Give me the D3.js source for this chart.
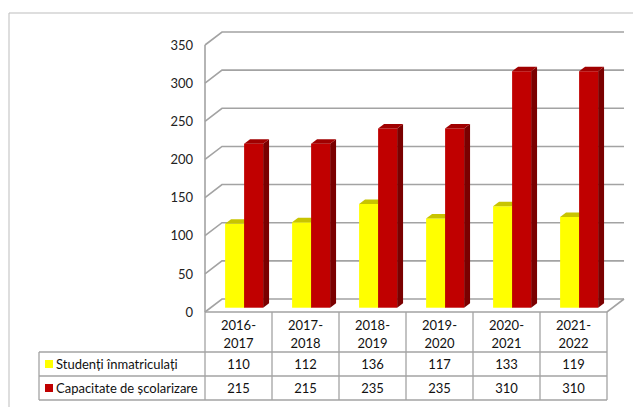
<!DOCTYPE html>
<html><head><meta charset="utf-8">
<script src="https://cdn.jsdelivr.net/npm/d3@7/dist/d3.min.js"></script>
<style>
html,body{margin:0;padding:0;background:#fff;}
svg{display:block;font-family:Lato, "Liberation Sans", sans-serif;}
</style></head>
<body>
<svg id="c" width="633" height="407"></svg>
<script>
const categories = ["2016-2017","2017-2018","2018-2019","2019-2020","2020-2021","2021-2022"];
const seriesNames = ["Studenți înmatriculați","Capacitate de școlarizare"];
const studenti = [110,112,136,117,133,119];
const capacitate = [215,215,235,235,310,310];
const yTicks = [0,50,100,150,200,250,300,350];
const colors = {
  front:["#FFFF00","#C00000"],
  top:["#C8C400","#A00000"],
  side:["#B0B000","#7A0000"]
};

const svg = d3.select("#c");
const series = [studenti, capacitate];

// layout
const x0 = 205, x1 = 607;      // front plane
const yBase = 312, yTop = 45;  // front plane
const DX = 17, DY = 13;        // wall depth
const x = d3.scaleBand().domain(categories).range([x0, x1]).padding(0);
const y = d3.scaleLinear().domain([0,350]).range([yBase, yTop]);
const gridColor = "#a3a3a3";

// outer border
svg.append("path").attr("d","M9,407 V13 H633").attr("fill","none").attr("stroke","#bdbdbd").attr("stroke-width",1);

// gridlines (walls)
const g = svg.append("g");
yTicks.forEach(t=>{
  const yy = y(t);
  g.append("path")
   .attr("d",`M${x0},${yy} L${x0+DX},${yy-DY} L${x1+DX},${yy-DY}`)
   .attr("fill","none").attr("stroke",gridColor).attr("stroke-width",1.6);
});
// floor
g.append("path").attr("d",`M${x0},${yBase} L${x1},${yBase} L${x1+DX},${yBase-DY}`)
  .attr("fill","none").attr("stroke",gridColor).attr("stroke-width",1.6);
// left wall vertical
g.append("line").attr("x1",x0).attr("x2",x0).attr("y1",y(350)).attr("y2",yBase)
  .attr("stroke",gridColor).attr("stroke-width",1.6);

// y axis labels
const ax = svg.append("g").attr("transform",`translate(${x0},0)`)
  .call(d3.axisLeft(y).tickValues(yTicks).tickSize(0).tickPadding(12));
ax.select(".domain").remove();
ax.selectAll("text").attr("font-size",13).attr("fill","#222").attr("font-family","Lato, sans-serif");

// bars
const f0 = 0.33, f1 = 0.68;
const barW = 19;
const bars = svg.append("g");
categories.forEach((c,i)=>{
  const groupW = barW*2;
  const gx = x(c) + (x.bandwidth()-groupW)/2 + DX*f0;
  const dy0 = DY*f0;
  const ddx = DX*(f1-f0), ddy = DY*(f1-f0);
  series.forEach((s,j)=>{
    const bx = gx + j*barW;
    const yt = y(s[i]) - dy0;
    const yb = y(0) - dy0;
    // side
    bars.append("path").attr("d",`M${bx+barW},${yt} L${bx+barW+ddx},${yt-ddy} L${bx+barW+ddx},${yb-ddy} L${bx+barW},${yb} Z`)
      .attr("fill",colors.side[j]);
    // front
    bars.append("rect").attr("x",bx).attr("y",yt).attr("width",barW).attr("height",yb-yt)
      .attr("fill",colors.front[j]);
    // top
    bars.append("path").attr("d",`M${bx},${yt} L${bx+barW},${yt} L${bx+barW+ddx},${yt-ddy} L${bx+ddx},${yt-ddy} Z`)
      .attr("fill",colors.top[j]);
  });
});

// data table
const tLeft = 39, hTop = yBase, hBot = 352, r1 = 376, r2 = 400;
const tb = svg.append("g").attr("stroke",gridColor).attr("stroke-width",1.3).attr("fill","none");
tb.append("line").attr("x1",x0).attr("x2",x0).attr("y1",yBase).attr("y2",r2);
categories.forEach(c=>{
  tb.append("line").attr("x1",x(c)+x.bandwidth()).attr("x2",x(c)+x.bandwidth()).attr("y1",hTop).attr("y2",r2);
});
[hBot,r1,r2].forEach(yy=>tb.append("line").attr("x1",tLeft).attr("x2",x1).attr("y1",yy).attr("y2",yy));
tb.append("line").attr("x1",tLeft).attr("x2",tLeft).attr("y1",hBot).attr("y2",r2);

const tt = svg.append("g").attr("font-size",13).attr("fill","#111");
categories.forEach(c=>{
  const parts = c.split("-");
  const cx = x(c)+x.bandwidth()/2;
  tt.append("text").attr("x",cx).attr("y",330).attr("text-anchor","middle").text(parts[0]+"-");
  tt.append("text").attr("x",cx).attr("y",348).attr("text-anchor","middle").text(parts[1]);
});
const rowY = [hBot, r1];
series.forEach((s,j)=>{
  const cy = rowY[j]+12;
  svg.append("rect").attr("x",45).attr("y",cy-4).attr("width",8).attr("height",8).attr("fill",colors.front[j]);
  tt.append("text").attr("x",56).attr("y",cy).attr("dy","0.35em").text(seriesNames[j]);
  categories.forEach((c,i)=>{
    tt.append("text").attr("x",x(c)+x.bandwidth()/2).attr("y",cy).attr("dy","0.35em")
      .attr("text-anchor","middle").text(s[i]);
  });
});
</script>
</body></html>
